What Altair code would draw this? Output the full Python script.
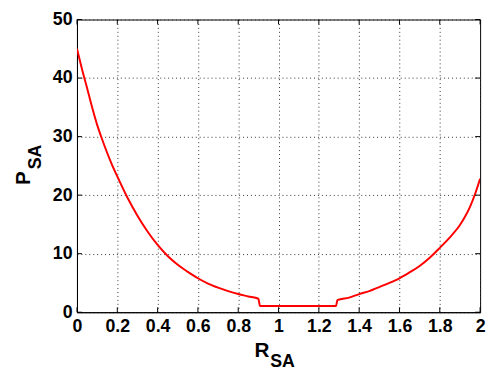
import altair as alt
import pandas as pd

# Curve values
r_vals = [0.0, 0.025, 0.05, 0.075, 0.1, 0.125, 0.15, 0.175, 0.2, 0.25, 0.3, 0.35,
          0.4, 0.45, 0.5, 0.55, 0.6, 0.65, 0.7, 0.75, 0.8, 0.85, 0.9, 0.908,
          1.0, 1.1, 1.2, 1.285, 1.292, 1.35, 1.4, 1.45, 1.5, 1.55, 1.6, 1.65,
          1.7, 1.75, 1.8, 1.85, 1.9, 1.925, 1.95, 1.975, 2.0]
p_vals = [45.0, 41.5, 38.3, 35.0, 32.0, 29.5, 27.2, 25.1, 23.2, 19.6, 16.5, 13.8,
          11.5, 9.6, 8.1, 6.9, 5.8, 4.9, 4.2, 3.6, 3.1, 2.7, 2.3, 1.07,
          1.07, 1.07, 1.07, 1.07, 2.05, 2.5, 3.1, 3.6, 4.3, 5.0, 5.8, 6.8,
          7.9, 9.3, 11.0, 12.8, 14.9, 16.3, 18.0, 20.2, 22.8]

x_ticks = [0, 0.2, 0.4, 0.6, 0.8, 1.0, 1.2, 1.4, 1.6, 1.8, 2.0]
y_ticks = [0, 10, 20, 30, 40, 50]

W, H = 409, 297
FONT = "Liberation Sans"

df = pd.DataFrame({"R": r_vals, "P": p_vals})
xs = alt.Scale(domain=[0, 2], nice=False, zero=False)
ys = alt.Scale(domain=[0, 50], nice=False, zero=False)

x_axis = alt.Axis(values=x_ticks, title=None, format="~g", labelFontSize=18,
                  labelFontWeight="bold", labelFont=FONT, labelColor="#000",
                  labelPadding=6, ticks=False, grid=True, gridDash=[1, 3],
                  gridColor="#333", gridWidth=1, domainColor="#000",
                  labelFlush=False, labelOverlap=False)
y_axis = alt.Axis(values=y_ticks, title=None, format="d", labelFontSize=18,
                  labelFontWeight="bold", labelFont=FONT, labelColor="#000",
                  labelPadding=5, ticks=False, grid=True, gridDash=[1, 3],
                  gridColor="#333", gridWidth=1, domainColor="#000",
                  labelFlush=False, labelOverlap=False)

line = alt.Chart(df).mark_line(color="#ff0000", strokeWidth=2, clip=True,
                               interpolate="monotone").encode(
    x=alt.X("R:Q", scale=xs, axis=x_axis),
    y=alt.Y("P:Q", scale=ys, axis=y_axis),
)

yt = pd.DataFrame({"v": y_ticks})
xt = pd.DataFrame({"v": x_ticks})
tick_l = alt.Chart(yt).mark_rule(color="#000").encode(
    y=alt.Y("v:Q", scale=ys, axis=y_axis), x=alt.value(0), x2=alt.value(5))
tick_r = alt.Chart(yt).mark_rule(color="#000").encode(
    y=alt.Y("v:Q", scale=ys, axis=y_axis), x=alt.value(W - 5), x2=alt.value(W))
tick_b = alt.Chart(xt).mark_rule(color="#000").encode(
    x=alt.X("v:Q", scale=xs, axis=x_axis), y=alt.value(H - 5), y2=alt.value(H))
tick_t = alt.Chart(xt).mark_rule(color="#000").encode(
    x=alt.X("v:Q", scale=xs, axis=x_axis), y=alt.value(0), y2=alt.value(5))

one = pd.DataFrame({"a": [0]})
def label(txt, size, x, y, angle=0):
    return alt.Chart(one).mark_text(
        text=txt, font=FONT, fontSize=size, fontWeight="bold", color="#000",
        align="left", baseline="alphabetic", angle=angle).encode(
        x=alt.value(x), y=alt.value(y))

r_main = label("R", 21, 180, 342)
r_sub = label("SA", 18, 196, 353)
p_main = label("P", 21, -48, 168, 270)
p_sub = label("SA", 18, -37, 152, 270)

chart = alt.layer(line, tick_l, tick_r, tick_b, tick_t,
                  r_main, r_sub, p_main, p_sub).properties(
    width=W, height=H,
    autosize=alt.AutoSizeParams(type="none"),
    padding={"left": 70, "top": 9, "right": 6, "bottom": 60},
).configure_view(stroke="#000", strokeWidth=1)

chart.save("out.html", embed_options={"renderer": "svg", "actions": False})
